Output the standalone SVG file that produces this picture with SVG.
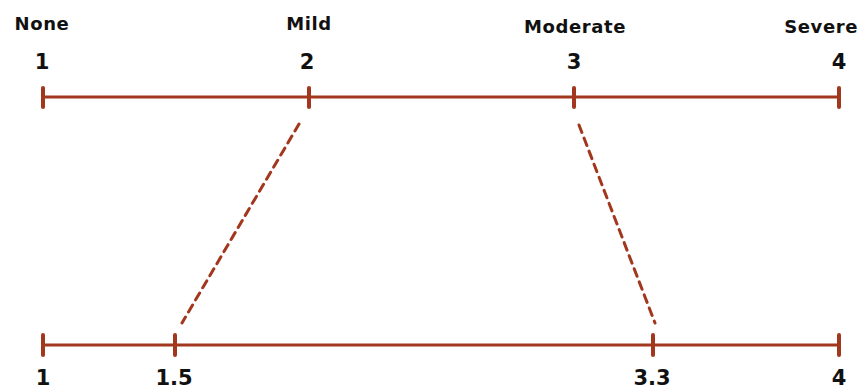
<svg xmlns="http://www.w3.org/2000/svg" width="860" height="390" viewBox="0 0 860 390">
  <style>
    .axis { stroke: #a1371d; stroke-width: 3; fill: none; }
    .tick { stroke: #a1371d; stroke-width: 4; stroke-linecap: round; }
    .link { stroke: #a1371d; stroke-width: 3; stroke-dasharray: 8 6; stroke-linecap: round; fill: none; }
    .lbl { font-family: "DejaVu Sans", "Liberation Sans", sans-serif; font-weight: bold; font-size: 18px; letter-spacing: 0.6px; fill: #111; text-anchor: middle; }
    .lbl.end { text-anchor: end; }
    .num { font-family: "DejaVu Sans", "Liberation Sans", sans-serif; font-weight: bold; font-size: 21px; fill: #111; text-anchor: middle; }
  </style>

  <!-- upper scale: original severity ratings -->
  <g id="scale-top">
    <line class="axis" x1="43" y1="97" x2="839" y2="97"/>
    <line class="tick" x1="43" y1="88" x2="43" y2="107"/>
    <line class="tick" x1="309" y1="88" x2="309" y2="107"/>
    <line class="tick" x1="574" y1="88" x2="574" y2="107"/>
    <line class="tick" x1="839" y1="88" x2="839" y2="107"/>
  </g>
  <g id="labels-top">
    <text class="lbl" x="42" y="30">None</text>
    <text class="lbl" x="309" y="30">Mild</text>
    <text class="lbl" x="575" y="33">Moderate</text>
    <text class="lbl end" x="858" y="33">Severe</text>
    <text class="num" x="42" y="69">1</text>
    <text class="num" x="307" y="69">2</text>
    <text class="num" x="574" y="69">3</text>
    <text class="num" x="839" y="69">4</text>
  </g>

  <!-- lower scale: remapped cut points -->
  <g id="scale-bottom">
    <line class="axis" x1="43" y1="345" x2="839" y2="345"/>
    <line class="tick" x1="43" y1="335" x2="43" y2="355"/>
    <line class="tick" x1="175" y1="335" x2="175" y2="355"/>
    <line class="tick" x1="653" y1="335" x2="653" y2="355"/>
    <line class="tick" x1="839" y1="335" x2="839" y2="355"/>
  </g>
  <g id="labels-bottom">
    <text class="num" x="43" y="385">1</text>
    <text class="num" x="174" y="385">1.5</text>
    <text class="num" x="652" y="385">3.3</text>
    <text class="num" x="839" y="385">4</text>
  </g>

  <!-- dashed correspondences between the scales -->
  <g id="connectors">
    <line class="link" x1="299" y1="124" x2="182" y2="323"/>
    <line class="link" x1="579" y1="125" x2="655" y2="323"/>
  </g>
</svg>
